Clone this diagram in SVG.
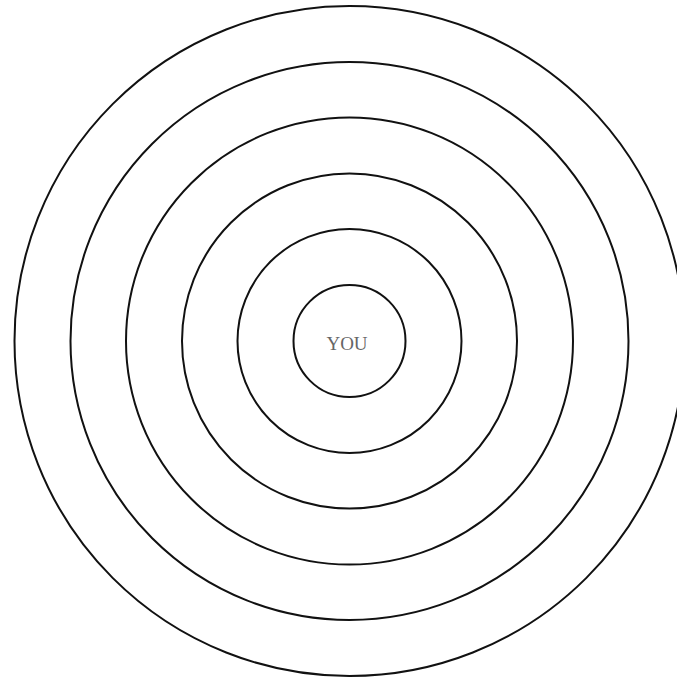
<svg xmlns="http://www.w3.org/2000/svg" width="677" height="679" viewBox="0 0 677 679">
<style>
.ring{fill:none;stroke:#111;stroke-width:2}
.lbl{font-family:"Liberation Serif",serif;font-size:19px;fill:#666;text-anchor:middle}
</style>
<rect width="677" height="679" fill="#fff"/>
<g id="ring6"><circle class="ring" cx="349.5" cy="341" r="335"/></g>
<g id="ring5"><circle class="ring" cx="349.5" cy="341" r="279"/></g>
<g id="ring4"><circle class="ring" cx="349.5" cy="341" r="223.5"/></g>
<g id="ring3"><circle class="ring" cx="349.5" cy="341" r="167.5"/></g>
<g id="ring2"><circle class="ring" cx="349.5" cy="341" r="112"/></g>
<g id="you"><circle class="ring" cx="349.5" cy="341" r="56"/><text class="lbl" x="347" y="349.5">YOU</text></g>
<g id="connectors"/>
</svg>
